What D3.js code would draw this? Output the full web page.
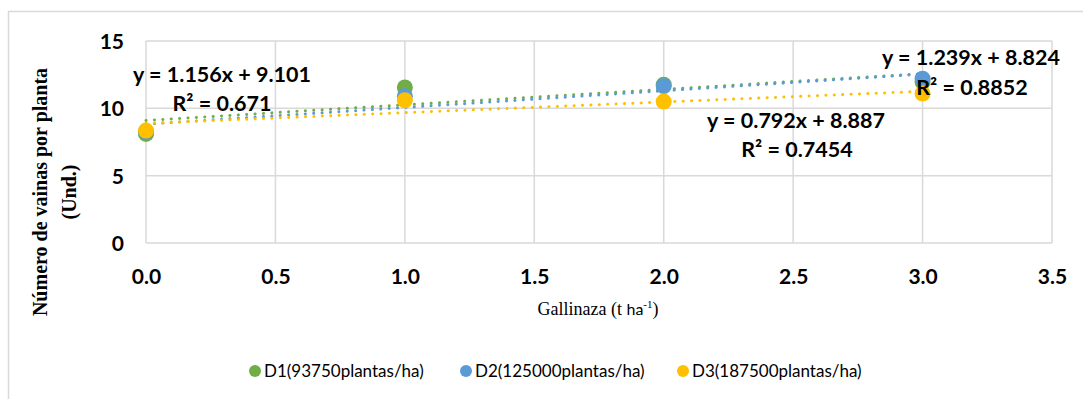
<!DOCTYPE html>
<html>
<head>
<meta charset="utf-8">
<script src="https://cdn.jsdelivr.net/npm/d3@7"></script>
<style>
  body { margin: 0; background: #fff; }
  svg { display: block; }
</style>
</head>
<body>
<div class="chart"></div>
<script>
// data
const doses = [0, 1, 2, 3];
const seriesNames = ["D1(93750plantas/ha)", "D2(125000plantas/ha)", "D3(187500plantas/ha)"];
const d1Values = [8.1, 11.55, 11.75, 11.95];
const d2Values = [8.25, 10.9, 11.65, 12.2];
const d3Values = [8.35, 10.6, 10.5, 11.1];
const slopes = [1.156, 1.239, 0.792];
const intercepts = [9.101, 8.824, 8.887];
const r2Values = ["0.671", "0.8852", "0.7454"];
const xTicks = [0, 0.5, 1, 1.5, 2, 2.5, 3, 3.5];
const yTicks = [0, 5, 10, 15];

const colors = ["#70AD47", "#5B9BD5", "#FFC000"];
const allValues = [d1Values, d2Values, d3Values];

const W = 1083, H = 399;
const margin = {top: 41, right: 31, bottom: 156, left: 146};
const w = W - margin.left - margin.right;
const h = H - margin.top - margin.bottom;

const boldFont = "Lato, 'Open Sans', sans-serif";

const root = d3.select(".chart")
    .append("svg")
        .attr("width", W)
        .attr("height", H);

// outer chart border (runs off the right and bottom of the picture)
root.append("rect")
    .attr("x", 8.5).attr("y", 11.5)
    .attr("width", W + 20).attr("height", H + 20)
    .attr("fill", "none")
    .attr("stroke", "#D9D9D9")
    .attr("stroke-width", 1.5);

const svg = root.append("g")
    .attr("transform", "translate(" + margin.left + "," + margin.top + ")");

const x = d3.scaleLinear().domain([0, 3.5]).range([0, w]);
const y = d3.scaleLinear().domain([0, 15]).range([h, 0]);

// gridlines
svg.append("g")
    .selectAll("line")
    .data(yTicks)
    .enter()
    .append("line")
        .attr("x1", 0).attr("x2", w)
        .attr("y1", d => y(d)).attr("y2", d => y(d))
        .attr("stroke", "#D9D9D9")
        .attr("stroke-width", 1.5);
svg.append("g")
    .selectAll("line")
    .data(xTicks)
    .enter()
    .append("line")
        .attr("x1", d => x(d)).attr("x2", d => x(d))
        .attr("y1", 0).attr("y2", h)
        .attr("stroke", "#D9D9D9")
        .attr("stroke-width", 1.5);

// axes (tick labels only, lines drawn by the grid)
const xAxis = svg.append("g")
    .attr("transform", "translate(0," + h + ")")
    .call(d3.axisBottom(x).tickValues(xTicks).tickFormat(d3.format(".1f")).tickSize(0).tickPadding(34));
const yAxis = svg.append("g")
    .call(d3.axisLeft(y).tickValues(yTicks).tickSize(0).tickPadding(22));
[xAxis, yAxis].forEach(a => {
    a.select(".domain").remove();
    a.selectAll("text")
        .style("font-family", boldFont)
        .style("font-weight", "bold")
        .style("font-size", "21px")
        .attr("fill", "#000")
        .attr("dy", "0.35em");
});

// trendlines
const line = d3.line().x(d => x(d[0])).y(d => y(d[1]));
slopes.forEach((m, i) => {
    svg.append("path")
        .datum([[0, intercepts[i]], [3, intercepts[i] + 3 * m]])
        .attr("d", line)
        .attr("fill", "none")
        .attr("stroke", colors[i])
        .attr("stroke-width", 3)
        .attr("stroke-linecap", "round")
        .attr("stroke-dasharray", "0.1,8.3");
});

// markers
allValues.forEach((vals, i) => {
    svg.append("g")
        .selectAll("circle")
        .data(vals)
        .enter()
        .append("circle")
            .attr("cx", (d, j) => x(doses[j]))
            .attr("cy", d => y(d))
            .attr("r", 8)
            .attr("fill", colors[i]);
});

// trendline equations
const eqPos = [[222, 74, 222, 103],
               [971, 57, 972, 87],
               [796, 120, 797, 149]];
slopes.forEach((m, i) => {
    const g = root.append("g")
        .style("font-family", boldFont)
        .style("font-weight", "bold")
        .style("font-size", "21.5px")
        .attr("text-anchor", "middle")
        .attr("fill", "#000");
    g.append("text")
        .attr("x", eqPos[i][0]).attr("y", eqPos[i][1]).attr("dy", "0.35em")
        .text("y = " + d3.format(".3f")(m) + "x + " + d3.format(".3f")(intercepts[i]));
    g.append("text")
        .attr("x", eqPos[i][2]).attr("y", eqPos[i][3]).attr("dy", "0.35em")
        .text("R\u00B2 = " + r2Values[i]);
});

// axis titles
const yTitle = root.append("text")
    .attr("transform", "translate(57,192) rotate(-90)")
    .attr("text-anchor", "middle")
    .style("font-family", "'Liberation Serif', 'Times New Roman', serif")
    .style("font-weight", "bold")
    .style("font-size", "20px");
yTitle.append("tspan").attr("x", 0).attr("dy", "-0.5em").text("Número de vainas por planta");
yTitle.append("tspan").attr("x", 0).attr("dy", "1.45em").text("(Und.)");

const xTitle = root.append("text")
    .attr("x", 598).attr("y", 315)
    .attr("text-anchor", "middle")
    .style("font-family", "'Liberation Serif', 'Times New Roman', serif")
    .style("font-size", "18px");
xTitle.append("tspan").text("Gallinaza (t ");
xTitle.append("tspan").style("font-family", boldFont).style("font-size", "16px").text("ha");
xTitle.append("tspan").attr("dy", "-7").style("font-size", "11px").text("-1");
xTitle.append("tspan").attr("dy", "7").text(")");

// legend
const legendX = [255, 466, 683];
const legend = root.append("g")
    .selectAll("g")
    .data(seriesNames)
    .enter()
    .append("g")
        .attr("transform", (d, i) => "translate(" + legendX[i] + ",371)");
legend.append("circle")
    .attr("r", 6)
    .attr("fill", (d, i) => colors[i]);
legend.append("text")
    .attr("x", 9)
    .attr("dy", "0.35em")
    .style("font-family", boldFont)
    .style("font-size", "17px")
    .attr("fill", "#000")
    .text(d => d);
</script>
</body>
</html>
